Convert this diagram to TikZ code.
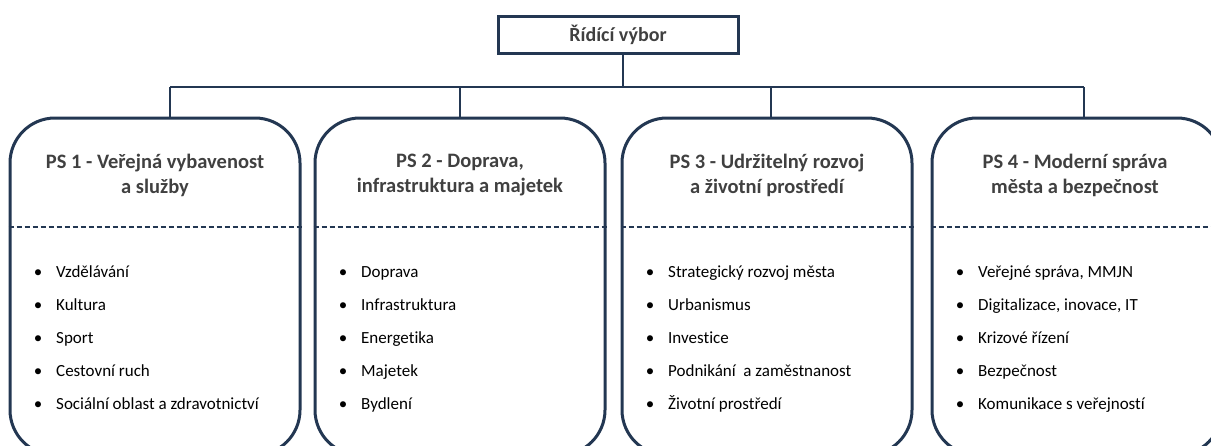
\documentclass[tikz,border=0pt]{standalone}
\usepackage{fontspec}
\setmainfont{Carlito}[Ligatures=NoCommon]
\definecolor{navy}{RGB}{35,55,82}
\definecolor{ttl}{RGB}{64,64,64}
\begin{document}
\begin{tikzpicture}[x=1pt,y=-1pt,
  card/.style={draw=navy,line width=3pt,rounded corners=45pt,minimum width=290pt,minimum height=337pt,inner sep=0pt},
  topbox/.style={draw=navy,line width=3pt,minimum width=240pt,minimum height=37pt,inner sep=0pt,text=ttl,font=\fontsize{20}{22}\selectfont\bfseries},
  bus/.style={draw=navy,line width=1.6pt},
  sep/.style={draw=navy,line width=1.4pt,dash pattern=on 5pt off 3pt},
  title/.style={align=center,text=ttl,font=\fontsize{20.5}{25}\selectfont\bfseries,inner sep=0pt},
  item/.style={anchor=base west,inner sep=0pt,font=\fontsize{17}{19}\selectfont,text=black},
  bul/.style={anchor=base,inner sep=0pt,font=\fontsize{17}{19}\selectfont,text=black}
]
\useasboundingbox (0,0) rectangle (1211,445);
\node[topbox] (rv) at (618,34.5) {Řídící výbor};
\node[card] (c1) at (155,286.5) {};
\node[card] (c2) at (460,286.5) {};
\node[card] (c3) at (767,286.5) {};
\node[card] (c4) at (1077,286.5) {};
\coordinate (d1) at (170,87);
\coordinate (d2) at (460,87);
\coordinate (d3) at (771,87);
\coordinate (d4) at (1084,87);
\coordinate (st) at (623,87);
\draw[bus] ([xshift=5pt]rv.south) -- (st);
\draw[bus] (d1) -- (d4);
\draw[bus] (d1) -- (d1 |- c1.north);
\draw[bus] (d2) -- (d2 |- c2.north);
\draw[bus] (d3) -- (d3 |- c3.north);
\draw[bus] (d4) -- (d4 |- c4.north);
\foreach \c in {c1,c2,c3,c4}{
  \draw[sep] (\c.west |- 0,227) -- (\c.east |- 0,227);
}
\node[title] (t1) at (155,175.5) {PS 1 - Veřejná vybavenost\\a služby};
\node[title] (t2) at (460,175.5) {PS 2 - Doprava,\\infrastruktura a majetek};
\node[title] (t3) at (767,175.5) {PS 3 - Udržitelný rozvoj\\a životní prostředí};
\node[title] (t4) at (1075,175.5) {PS 4 - Moderní správa\\města a bezpečnost};
\foreach \L/\a/\b/\c/\d/\e [count=\k] in {
  10/Vzdělávání/Kultura/Sport/Cestovní ruch/Sociální oblast a zdravotnictví,
  315/Doprava/Infrastruktura/Energetika/Majetek/Bydlení,
  622/Strategický rozvoj města/Urbanismus/Investice/Podnikání~ a zaměstnanost/Životní prostředí,
  932/Veřejné správa{,} MMJN/Digitalizace{,} inovace{,} IT/Krizové řízení/Bezpečnost/Komunikace s veřejností}{
  \foreach \t [count=\r] in {\a,\b,\c,\d,\e}{
    \node[bul] (b\k-\r) at (\L+28,277+33*\r-33) {•};
    \node[item] (i\k-\r) at (\L+46,277+33*\r-33) {\t};
  }
}
\end{tikzpicture}
\end{document}
